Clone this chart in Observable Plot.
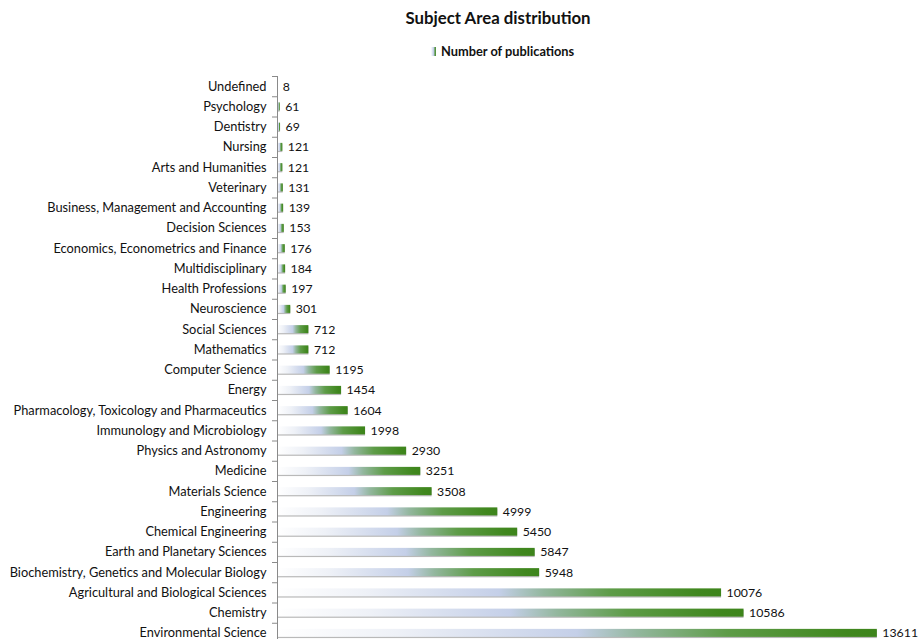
<!DOCTYPE html>
<html>
<head>
<meta charset="utf-8">
<script src="https://cdn.jsdelivr.net/npm/d3@7"></script>
<script src="https://cdn.jsdelivr.net/npm/@observablehq/plot@0.6"></script>
<style>
  html, body { margin: 0; padding: 0; background: #fff; overflow: hidden; }
  #wrap { position: relative; width: 918px; font-family: Lato, "Open Sans", sans-serif; }
  #head { position: relative; height: 64px; }
  #title { position: absolute; top: 7px; left: 0; width: 996px; text-align: center; font-weight: bold; font-size: 16.8px; color: #111; }
  #legend { position: absolute; top: 43px; left: 431px; font-weight: bold; font-size: 12.8px; color: #111; display: flex; align-items: center; }
  #legend .sw { width: 5px; height: 9px; margin-right: 5px; background: linear-gradient(to right, #ffffff, #c4cfe8 50%, #8fb59a 62%, #3f861d); }
  svg { display: block; }
</style>
</head>
<body>
<div id="wrap">
  <div id="head">
    <div id="title">Subject Area distribution</div>
    <div id="legend"><span class="sw"></span><span>Number of publications</span></div>
  </div>
  <div id="chart"></div>
</div>
<script>
const subjects = [
  "Undefined", "Psychology", "Dentistry", "Nursing", "Arts and Humanities", "Veterinary",
  "Business, Management and Accounting", "Decision Sciences", "Economics, Econometrics and Finance",
  "Multidisciplinary", "Health Professions", "Neuroscience", "Social Sciences", "Mathematics",
  "Computer Science", "Energy", "Pharmacology, Toxicology and Pharmaceutics", "Immunology and Microbiology",
  "Physics and Astronomy", "Medicine", "Materials Science", "Engineering", "Chemical Engineering",
  "Earth and Planetary Sciences", "Biochemistry, Genetics and Molecular Biology",
  "Agricultural and Biological Sciences", "Chemistry", "Environmental Science"
];
const publications = [
  8, 61, 69, 121, 121, 131, 139, 153, 176, 184, 197, 301, 712, 712,
  1195, 1454, 1604, 1998, 2930, 3251, 3508, 4999, 5450, 5847, 5948,
  10076, 10586, 13611
];
const seriesName = "Number of publications";

const data = subjects.map((s, i) => ({subject: s, value: publications[i]}));

const height = 580, marginTop = 12, marginBottom = 1;
const step = (height - marginTop - marginBottom) / subjects.length;
const inset = (step - 8) / 2;

const chart = Plot.plot({
  width: 918,
  height,
  marginLeft: 277,
  marginRight: 24,
  marginTop,
  marginBottom,
  style: {fontFamily: "Lato, 'Open Sans', sans-serif", fontSize: "12.8px", color: "#111", background: "#fff"},
  x: {domain: [0, 14000], axis: null},
  y: {domain: subjects, padding: 0, round: false, label: null},
  marks: [
    Plot.barX(data, {y: "subject", x: "value", fill: "#b9b9b9", insetTop: inset + 1.2, insetBottom: inset - 1.2}),
    Plot.barX(data, {y: "subject", x: "value", fill: "url(#barGrad)", insetTop: inset, insetBottom: inset}),
    Plot.ruleX([0], {stroke: "#8a8a8a", strokeWidth: 1}),
    Plot.ruleY(subjects, {y: d => d, x1: 0, x2: 0, insetLeft: -5, stroke: "#8a8a8a", dy: -step / 2}),
    Plot.axisY({tickSize: 0, tickPadding: 11, fontSize: 12.8, fill: "#111", label: null}),
    Plot.text(data, {y: "subject", x: "value", text: d => String(d.value), textAnchor: "start", dx: 5, fontSize: 12.3, fill: "#111"})
  ]
});

const svg = d3.select(chart);
const defs = svg.insert("defs", ":first-child");
const g = defs.append("linearGradient").attr("id", "barGrad").attr("x1", "0").attr("x2", "1").attr("y1", "0").attr("y2", "0");
[[0, "#ffffff"], [0.2, "#eef1f7"], [0.5, "#c4cfe8"], [0.6, "#93b79e"], [0.75, "#5e9c48"], [0.95, "#40871e"], [1, "#3d841b"]].forEach(([o, c]) =>
  g.append("stop").attr("offset", o).attr("stop-color", c));

document.getElementById("chart").appendChild(chart);
</script>
</body>
</html>
